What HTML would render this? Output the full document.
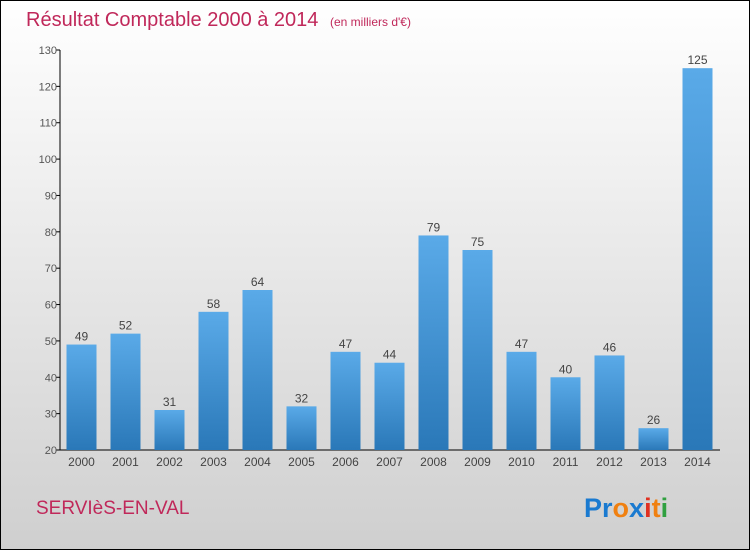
<!DOCTYPE html>
<html><head><meta charset="utf-8"><style>
body{margin:0}
svg{display:block;font-family:"Liberation Sans",sans-serif}
</style></head><body>
<svg width="750" height="550" viewBox="0 0 750 550">
<defs>
<linearGradient id="bg" x1="0" y1="0" x2="0" y2="1"><stop offset="0" stop-color="#ffffff"/><stop offset="1" stop-color="#cfcfcf"/></linearGradient>
<linearGradient id="bar" x1="0" y1="0" x2="0" y2="1"><stop offset="0" stop-color="#5aaae8"/><stop offset="1" stop-color="#2a78b8"/></linearGradient>
</defs>
<rect x="0.5" y="0.5" width="749" height="549" fill="url(#bg)" stroke="#000"/>
<text x="26" y="26" font-size="20" fill="#c0285a">Résultat Comptable 2000 à 2014 <tspan font-size="12" dx="6">(en milliers d'€)</tspan></text>
<g id="axes"></g>
<g id="bars"></g>
<text x="36" y="514" font-size="19" fill="#c0285a">SERVIèS-EN-VAL</text>
<text x="584" y="517" font-size="27" font-weight="bold"><tspan fill="#1a7ad0">Pr</tspan><tspan fill="#f08010">o</tspan><tspan fill="#1a7ad0">x</tspan><tspan fill="#e03020">i</tspan><tspan fill="#f08010">t</tspan><tspan fill="#30a040">i</tspan></text>
</svg>
<script>
const years=["2000","2001","2002","2003","2004","2005","2006","2007","2008","2009","2010","2011","2012","2013","2014"];
const values=[49,52,31,58,64,32,47,44,79,75,47,40,46,26,125];
const ticks=[20,30,40,50,60,70,80,90,100,110,120,130];
const NS="http://www.w3.org/2000/svg";
const x0=60,x1=720,yMin=20,yMax=130,yTop=50,yBot=450;
const y=v=>yBot-(v-yMin)/(yMax-yMin)*(yBot-yTop);
const step=(x1-x0)/years.length;
const xc=i=>x0+step*(i+0.5)-0.5;
function mk(t,a,p){const e=document.createElementNS(NS,t);for(const k in a)e.setAttribute(k,a[k]);p.appendChild(e);return e;}
const ax=document.getElementById('axes'),bg=document.getElementById('bars');
const yl=mk('line',{x1:x0,y1:yTop,x2:x0,y2:yBot,stroke:'#000'},ax);


const xl=mk('line',{x1:x0,y1:yBot,x2:x1,y2:yBot,stroke:'#000'},ax);


ticks.forEach(t=>{
 mk('line',{x1:x0-4,y1:y(t),x2:x0,y2:y(t),stroke:'#000'},ax);
 const tx=mk('text',{x:x0-3,y:y(t)+4,'font-size':11,fill:'#555','text-anchor':'end'},ax);
 tx.textContent=t;
 
 
});
years.forEach((yr,i)=>{
 const r=mk('rect',{x:xc(i)-15,y:y(values[i]),width:30,height:yBot-y(values[i]),fill:'url(#bar)'},bg);
 
 
 const v=mk('text',{x:xc(i),y:y(values[i])-4,'font-size':12,fill:'#444','text-anchor':'middle'},bg);
 v.textContent=values[i];
 
 
 const l=mk('text',{x:xc(i),y:466,'font-size':12,fill:'#444','text-anchor':'middle'},bg);
 l.textContent=yr;
 
 
});
</script>
</body></html>
